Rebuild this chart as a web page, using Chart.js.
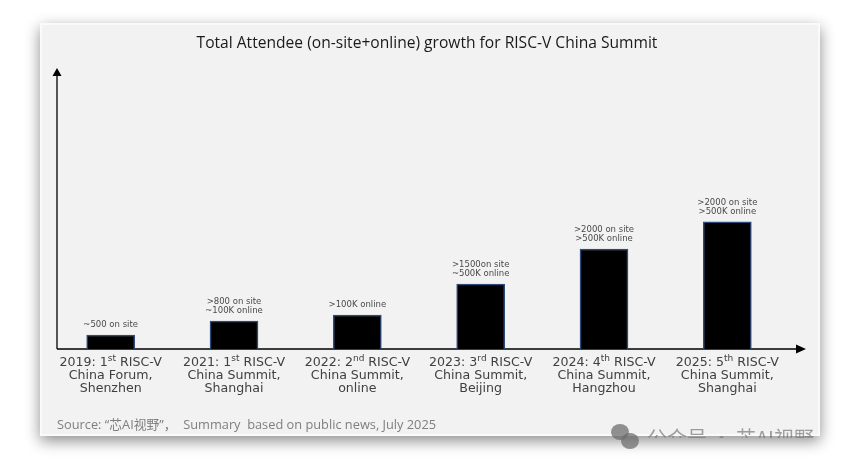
<!DOCTYPE html>
<html lang="en">
<head>
    <meta charset="UTF-8">
    <title>RISC-V China Summit attendees</title>
    <script src="https://cdn.jsdelivr.net/npm/chart.js"></script>
    <style>
        html, body { margin: 0; padding: 0; background: #ffffff; }
        #wrap { width: 860px; height: 472px; }
    </style>
</head>
<body>
    <div id="wrap"><canvas id="summitChart" width="860" height="472"></canvas></div>

    <script>
        // event labels (^xx marks a superscript)
        var categories = [
            ['2019: 1^st RISC-V', 'China Forum,', 'Shenzhen'],
            ['2021: 1^st RISC-V', 'China Summit,', 'Shanghai'],
            ['2022: 2^nd RISC-V', 'China Summit,', 'online'],
            ['2023: 3^rd RISC-V', 'China Summit,', 'Beijing'],
            ['2024: 4^th RISC-V', 'China Summit,', 'Hangzhou'],
            ['2025: 5^th RISC-V', 'China Summit,', 'Shanghai']
        ];
        // relative bar heights (no axis scale given)
        var attendance = [5.1, 10.2, 12.4, 23.7, 36.5, 46.4];
        var barNotes = [
            ['~500 on site'],
            ['>800 on site', '~100K online'],
            ['>100K online'],
            ['>1500on site', '~500K online'],
            ['>2000 on site', '>500K online'],
            ['>2000 on site', '>500K online']
        ];
        var titleText = 'Total Attendee (on-site+online) growth for RISC-V China Summit';
        var sourceText = 'Source: \u201c芯AI视野\u201d\uff0c  Summary  based on public news, July 2025';
        var watermarkText = '公众号 · 芯AI视野';

        var panel = { x: 40, y: 23, w: 780, h: 413 };

        function drawRich(ctx, str, cx, y, size) {
            var parts = str.split(/\^(\w+)/);
            var big = size + 'px "DejaVu Sans"';
            var small = Math.round(size * 0.68) + 'px "DejaVu Sans"';
            var total = 0;
            parts.forEach(function (p, i) {
                ctx.font = i % 2 ? small : big;
                total += ctx.measureText(p).width;
            });
            var x = cx - total / 2;
            ctx.textAlign = 'left';
            parts.forEach(function (p, i) {
                ctx.font = i % 2 ? small : big;
                ctx.fillText(p, x, i % 2 ? y - size * 0.36 : y);
                x += ctx.measureText(p).width;
            });
        }

        var backdrop = {
            id: 'backdrop',
            beforeDraw: function (chart) {
                var ctx = chart.ctx;
                ctx.save();
                ctx.fillStyle = '#ffffff';
                ctx.fillRect(0, 0, chart.width, chart.height);
                ctx.shadowColor = 'rgba(0,0,0,0.45)';
                ctx.shadowBlur = 14;
                ctx.shadowOffsetY = 5;
                ctx.fillStyle = '#fafafa';
                ctx.fillRect(panel.x, panel.y, panel.w, panel.h);
                ctx.restore();
                ctx.fillStyle = '#f2f2f2';
                ctx.fillRect(panel.x + 2, panel.y + 2, panel.w - 4, panel.h - 4);

                // title
                ctx.fillStyle = '#1a1a1a';
                ctx.font = '15.6px "Open Sans"';
                ctx.textAlign = 'center';
                ctx.textBaseline = 'middle';
                ctx.fillText(titleText, 427, 44);

                // arrow axes
                var a = chart.chartArea;
                var x0 = a.left + 8, y0 = a.bottom, yTop = 68, xEnd = 806;
                ctx.strokeStyle = '#000';
                ctx.lineWidth = 1.3;
                ctx.beginPath();
                ctx.moveTo(x0, y0); ctx.lineTo(x0, yTop + 6);
                ctx.moveTo(x0, y0); ctx.lineTo(xEnd - 8, y0);
                ctx.stroke();
                ctx.fillStyle = '#000';
                ctx.beginPath();
                ctx.moveTo(x0, yTop); ctx.lineTo(x0 - 4.5, yTop + 8); ctx.lineTo(x0 + 4.5, yTop + 8);
                ctx.closePath(); ctx.fill();
                ctx.beginPath();
                ctx.moveTo(xEnd, y0); ctx.lineTo(xEnd - 10, y0 - 4.5); ctx.lineTo(xEnd - 10, y0 + 4.5);
                ctx.closePath(); ctx.fill();
            },
            afterDatasetsDraw: function (chart) {
                var ctx = chart.ctx;
                var xs = chart.scales.x;
                var meta = chart.getDatasetMeta(0);
                ctx.save();
                ctx.textBaseline = 'middle';
                ctx.fillStyle = '#404040';
                categories.forEach(function (lines, i) {
                    var cx = xs.getPixelForValue(i);
                    lines.forEach(function (ln, j) {
                        drawRich(ctx, ln, cx, chart.chartArea.bottom + 14 + j * 13, 12.6);
                    });
                });
                ctx.fillStyle = '#4a4a4a';
                ctx.font = '8.5px "DejaVu Sans"';
                ctx.textAlign = 'center';
                barNotes.forEach(function (lines, i) {
                    var bar = meta.data[i];
                    var n = lines.length;
                    lines.forEach(function (ln, j) {
                        ctx.fillText(ln, bar.x, bar.y - 10 - (n - 1 - j) * 9);
                    });
                });

                // source line
                ctx.fillStyle = '#7f7f7f';
                ctx.font = '12.8px "Open Sans", "Noto Sans CJK SC"';
                ctx.textAlign = 'left';
                ctx.fillText(sourceText, 57, 425);

                // watermark
                ctx.fillStyle = 'rgba(110,110,110,0.75)';
                ctx.beginPath(); ctx.ellipse(620, 432, 9, 8, 0, 0, Math.PI * 2); ctx.fill();
                ctx.beginPath(); ctx.ellipse(630, 441, 9, 8, 0, 0, Math.PI * 2); ctx.fill();
                ctx.save();
                ctx.beginPath();
                ctx.rect(0, 0, panel.x + panel.w, panel.y + panel.h + 2);
                ctx.clip();
                ctx.font = '20px "Noto Sans CJK SC"';
                ctx.fillStyle = 'rgba(120,120,120,0.7)';
                ctx.fillText(watermarkText, 647, 438);
                ctx.restore();
                ctx.restore();
            }
        };

        var ctx = document.getElementById('summitChart').getContext('2d');
        var summitChart = new Chart(ctx, {
            type: 'bar',
            data: {
                labels: categories.map(function (c) { return c.join(' '); }),
                datasets: [{
                    data: attendance,
                    backgroundColor: '#000000',
                    borderColor: '#2e4a7a',
                    borderWidth: 1.5,
                    barThickness: 48
                }]
            },
            options: {
                responsive: false,
                animation: false,
                events: [],
                layout: { padding: { left: 49, right: 71, top: 75, bottom: 123 } },
                plugins: { legend: { display: false }, tooltip: { enabled: false }, title: { display: false } },
                scales: {
                    x: { display: false, offset: true },
                    y: { display: false, min: 0, max: 100 }
                }
            },
            plugins: [backdrop]
        });
    </script>
</body>
</html>
